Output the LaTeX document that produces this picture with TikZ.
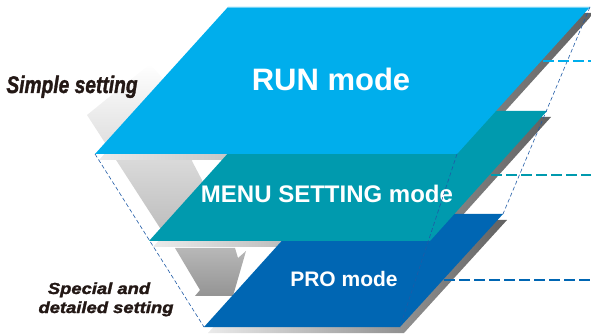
\documentclass[tikz,border=0pt]{standalone}
\usepackage{fontspec}
\setmainfont{Liberation Sans}
\newfontfamily\heavyfont{Liberation Sans}[BoldItalicFeatures={FakeBold=1.6}]
\usepackage{graphicx}
\definecolor{runc}{HTML}{00AEEC}
\definecolor{menuc}{HTML}{009AAE}
\definecolor{proc}{HTML}{0066B3}
\definecolor{dashc}{HTML}{1F5AA6}
\definecolor{labc}{HTML}{231815}
\begin{document}
\begin{tikzpicture}[x=1pt,y=-1pt,
  shadowslab/.style={left color=black!8, right color=black!62},
  diag/.style={dashc, line width=0.6pt, dash pattern=on 4pt off 2.5pt},
  hdash/.style={line width=2pt, dash pattern=on 11pt off 4pt},
  modetext/.style={text=white, inner sep=0pt, anchor=base},
  sidetext/.style={text=labc, inner sep=0pt, anchor=base}]
\useasboundingbox (0,0) rectangle (591,336);
% plane corners
\coordinate (rTL) at (228,7);   \coordinate (rTR) at (590,7);
\coordinate (rBR) at (457,154); \coordinate (rBL) at (95,154);
\coordinate (mTL) at (266,111); \coordinate (mTR) at (547,111);
\coordinate (mBR) at (430,241); \coordinate (mBL) at (149,241);
\coordinate (pTL) at (306,214); \coordinate (pTR) at (503,214);
\coordinate (pBR) at (400,327); \coordinate (pBL) at (204,327);
% arrows
\shade[top color=white, bottom color=black!27]
  (87,115) -- (150,64) -- (200,120) -- (192,161) -- (203,182) -- (178,240) -- (160,228) -- cycle;
\shade[top color=black!28, bottom color=black!42]
  (175,248) -- (235,248) -- (238,258) -- (246,251) -- (233,296) -- (195,296) -- (200,290) -- cycle;
% shadows
\foreach \a/\b/\c/\d in {rTL/rTR/rBR/rBL, mTL/mTR/mBR/mBL, pTL/pTR/pBR/pBL}
  \shade[shadowslab] ([shift={(4,6)}]\a) -- ([shift={(4,6)}]\b) -- ([shift={(4,6)}]\c) -- ([shift={(4,6)}]\d) -- cycle;
% planes
\fill[proc] (pTL) -- (pTR) -- (pBR) -- (pBL) -- cycle;
\fill[menuc] (mTL) -- (mTR) -- (mBR) -- (mBL) -- cycle;
\fill[runc] (rTL) -- (rTR) -- (rBR) -- (rBL) -- cycle;
\draw[runc!55!white, line width=0.8pt] ([yshift=-0.4pt]rTL) -- ([yshift=-0.4pt]rTR);
% texts
\node[modetext, font={\fontsize{31}{31}\selectfont\bfseries}] (run) at (331,91) {RUN mode};
\node[modetext, font={\fontsize{24}{24}\selectfont\bfseries}] (menu) at (327,203) {MENU SETTING mode};
\node[modetext, font={\fontsize{21}{21}\selectfont\bfseries}] (pro) at (344,287) {PRO mode};
\node[sidetext, font={\heavyfont\fontsize{24}{24}\selectfont\bfseries\itshape}] (simple) at (72,93) {\scalebox{0.8}[1]{Simple setting}};
\node[sidetext, font={\heavyfont\fontsize{16}{16}\selectfont\bfseries\itshape}] (special) at (99,294) {\scalebox{1.15}[1]{Special and}};
\node[sidetext, font={\heavyfont\fontsize{16}{16}\selectfont\bfseries\itshape}] (detailed) at (106,313) {\scalebox{1.15}[1]{detailed setting}};
% diagonal guide lines
\draw[diag] (rBL) -- (pBL);
\draw[diag] (rBR) -- (pBR);
\draw[diag] (rTR) -- (pTR);
% level lines
\coordinate (rE) at (543,61);  \coordinate (rX) at (591,61);
\coordinate (mE) at (491,175); \coordinate (mX) at (591,175);
\coordinate (pE) at (444,280); \coordinate (pX) at (591,280);
\draw[hdash, runc] (rE) -- (rX);
\draw[hdash, menuc] (mE) -- (mX);
\draw[hdash, proc] (pE) -- (pX);
\end{tikzpicture}
\end{document}
